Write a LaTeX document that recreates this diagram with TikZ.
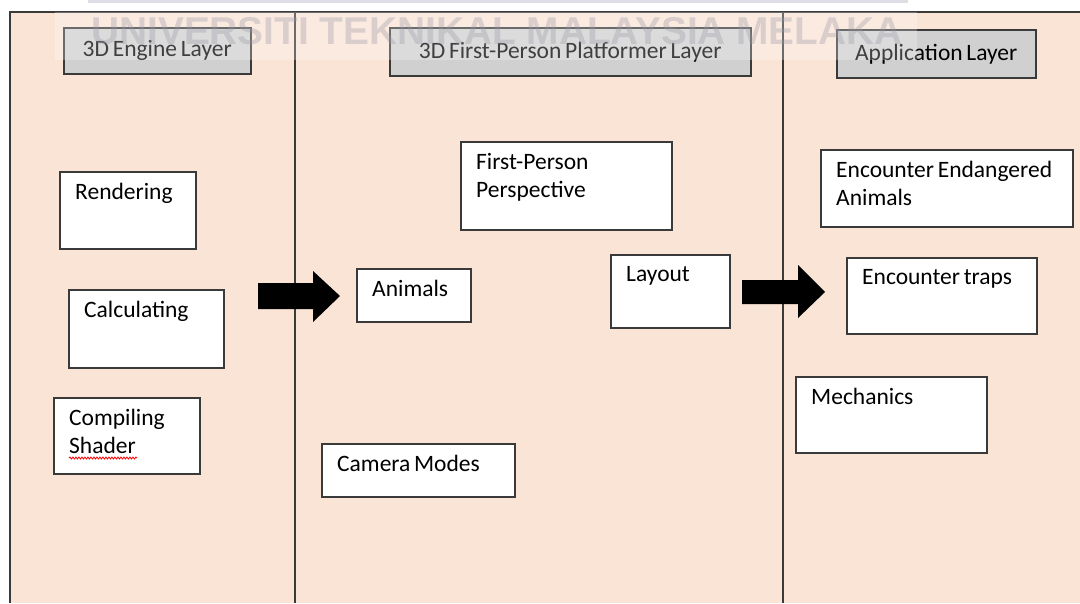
\documentclass[tikz,border=0pt]{standalone}
\usepackage{fontspec}
\setmainfont{Carlito}[WordSpace=0.7]
\newfontfamily\wmfont{Liberation Sans}
\usetikzlibrary{shadows,decorations.pathmorphing}

\definecolor{peach}{RGB}{250,228,214}
\definecolor{hdrgray}{RGB}{208,208,208}
\definecolor{edge}{RGB}{58,58,58}
\definecolor{wmgray}{RGB}{150,150,165}
\definecolor{wmband}{RGB}{222,222,230}

\tikzstyle{hdr}=[%
	draw=edge, line width=1.5pt, fill=hdrgray, inner sep=0, anchor=north west,
	drop shadow={shadow xshift=1pt, shadow yshift=-1pt, opacity=0.35, fill=black}
]
\tikzstyle{blk}=[%
	draw=edge, line width=1.5pt, fill=white, inner sep=0, anchor=north west,
	drop shadow={shadow xshift=1pt, shadow yshift=-1pt, opacity=0.35, fill=black}
]
\tikzstyle{txt}=[anchor=north west, inner sep=0, xshift=16pt, yshift=-12pt, align=left]

\begin{document}
\begin{tikzpicture}[x=1pt, y=-1pt, font=\fontsize{23.5}{28}\selectfont]
	\path[use as bounding box, fill=white] (0,0) rectangle (1080,603);
	\fill[peach] (10,12) rectangle (1080,603);
	\draw[edge, line width=1.2pt] (10,603) -- (10,12) -- (1080,12);
	\draw[edge, line width=1.2pt] (295,12) -- (295,603);
	\draw[edge, line width=1.2pt] (783,12) -- (783,603);

	\node[hdr, minimum width=187, minimum height=46] (h1) at ( 63,27) {3D Engine Layer};
	\node[hdr, minimum width=361, minimum height=48] (h2) at (389,27) {3D First-Person Platformer Layer};
	\node[hdr, minimum width=199, minimum height=48] (h3) at (836,29) {Application Layer};

	\node[blk, minimum width=136, minimum height=77, label={[txt]north west:Rendering}] (ren) at ( 59,171) {};
	\node[blk, minimum width=155, minimum height=78, label={[txt]north west:Calculating}] (calc) at ( 68,289) {};
	\node[blk, minimum width=146, minimum height=76, label={[txt]north west:Compiling\\Shader}] (comp) at ( 53,397) {};

	\node[blk, minimum width=211, minimum height=88, label={[txt]north west:First-Person\\Perspective}] (fpp) at (460,141) {};
	\node[blk, minimum width=114, minimum height=53, label={[txt]north west:Animals}] (anim) at (356,268) {};
	\node[blk, minimum width=119, minimum height=73, label={[txt]north west:Layout}] (lay) at (610,254) {};
	\node[blk, minimum width=193, minimum height=53, label={[txt]north west:Camera Modes}] (cam) at (321,443) {};

	\node[blk, minimum width=252, minimum height=77, label={[txt]north west:Encounter Endangered\\Animals}] (ence) at (820,149) {};
	\node[blk, minimum width=190, minimum height=76, label={[txt]north west:Encounter traps}] (trap) at (846,257) {};
	\node[blk, minimum width=191, minimum height=76, label={[txt]north west:Mechanics}] (mech) at (795,376) {};

	% block arrows between the layers
	\fill (258,283) -- (313,283) -- (313,271) -- (340,296) -- (313,322) -- (313,309) -- (258,309) -- cycle;
	\fill (742,280) -- (798,280) -- (798,265) -- (825,292) -- (798,318) -- (798,304) -- (742,304) -- cycle;

	\draw[red, line width=0.8pt, decorate, decoration={snake, amplitude=1pt, segment length=3pt}] (69,458) -- (137,458);

	% stamp across the top
	\fill[wmband] (88,0) rectangle (908,3);
	\fill[white, opacity=0.25] (55,12) rectangle (917,60);
	\node[text=wmgray, opacity=0.33, inner sep=0, font=\wmfont\bfseries\fontsize{38.8}{40}\selectfont] (wm) at (497,31) {UNIVERSITI TEKNIKAL MALAYSIA MELAKA};
\end{tikzpicture}
\end{document}
